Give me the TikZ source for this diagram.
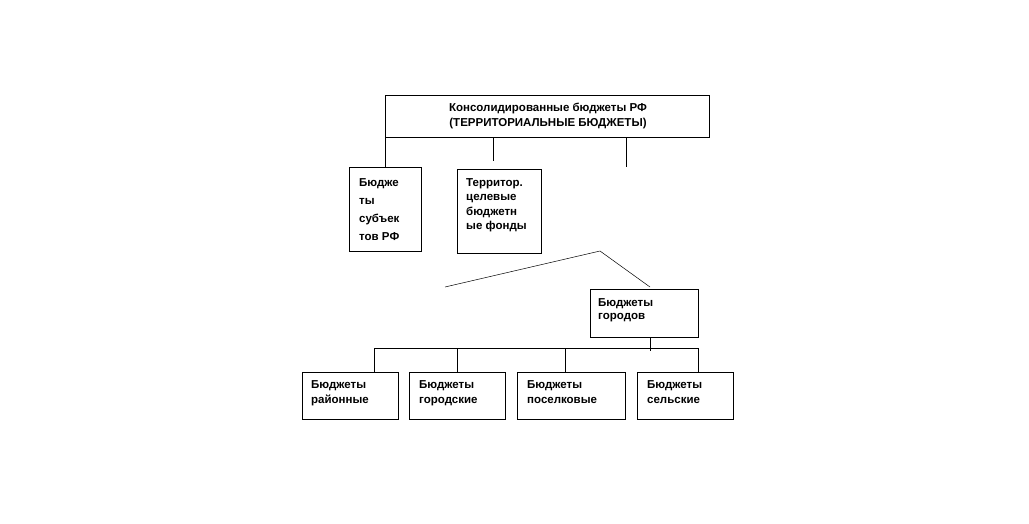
\documentclass[tikz,border=0pt]{standalone}
\usepackage{fontspec}
\setmainfont{Liberation Sans}
\begin{document}
\begin{tikzpicture}[x=1pt,y=-1pt,
  box/.style={draw,line width=0.8pt,inner sep=0pt,anchor=north west},
  txt/.style={font=\bfseries\fontsize{11.5}{15}\selectfont,inner sep=0pt,align=left,anchor=north west},
  ln/.style={line width=0.8pt},
  thin/.style={line width=0.5pt}]
\useasboundingbox (0,0) rectangle (1029,523);
% top box
\node[box,minimum width=324pt,minimum height=42pt] (top) at (385,95) {};
\node[font=\bfseries\fontsize{11.5}{15}\selectfont,inner sep=0pt,align=center,anchor=north] (toptxt) at (548,103) {Консолидированные бюджеты РФ\\(ТЕРРИТОРИАЛЬНЫЕ БЮДЖЕТЫ)};
% second row
\node[box,minimum width=72pt,minimum height=84pt] (subj) at (349,167) {};
\node[txt,font=\bfseries\fontsize{11.5}{18}\selectfont] (subjtxt) at (359,178) {Бюдже\\ты\\субъек\\тов РФ};
\node[box,minimum width=84pt,minimum height=84pt] (fond) at (457,169) {};
\node[txt,font=\bfseries\fontsize{11.5}{14.5}\selectfont] (fondtxt) at (466,178) {Территор.\\целевые\\бюджетн\\ые фонды};
\coordinate (m1) at (493,137);
\coordinate (m2) at (493,161);
\coordinate (r1) at (626,137);
\coordinate (r2) at (626,167);
\draw[ln] (top.south west) -- (subj.north -| top.south west);
\draw[ln] (m1) -- (m2);
\draw[ln] (r1) -- (r2);
% diagonals
\coordinate (dl) at (445,287);
\coordinate (dp) at (600,251);
\coordinate (dr) at (650,287);
\draw[thin] (dl) -- (dp) -- (dr);
% cities
\node[box,minimum width=108pt,minimum height=48pt] (city) at (590,289) {};
\node[txt,font=\bfseries\fontsize{11.5}{13}\selectfont] (citytxt) at (598,298) {Бюджеты\\городов};
% bottom row
\node[box,minimum width=96pt,minimum height=47pt] (b1) at (302,372) {};
\node[txt] (b1t) at (311,380) {Бюджеты\\районные};
\node[box,minimum width=96pt,minimum height=47pt] (b2) at (409,372) {};
\node[txt] (b2t) at (419,380) {Бюджеты\\городские};
\node[box,minimum width=108pt,minimum height=47pt] (b3) at (517,372) {};
\node[txt] (b3t) at (527,380) {Бюджеты\\поселковые};
\node[box,minimum width=96pt,minimum height=47pt] (b4) at (637,372) {};
\node[txt] (b4t) at (647,380) {Бюджеты\\сельские};
\coordinate (bus) at (650,351);
\draw[ln] (city.south -| bus) -- (bus);
\coordinate (hl) at (374,348);
\coordinate (hr) at (698,348);
\draw[ln] (hl) -- (hr);
\draw[ln] (hl) -- (hl |- b1.north);
\draw[ln] (457,348) -- (457,372);
\draw[ln] (565,348) -- (565,372);
\draw[ln] (hr) -- (hr |- b4.north);
\end{tikzpicture}
\end{document}
